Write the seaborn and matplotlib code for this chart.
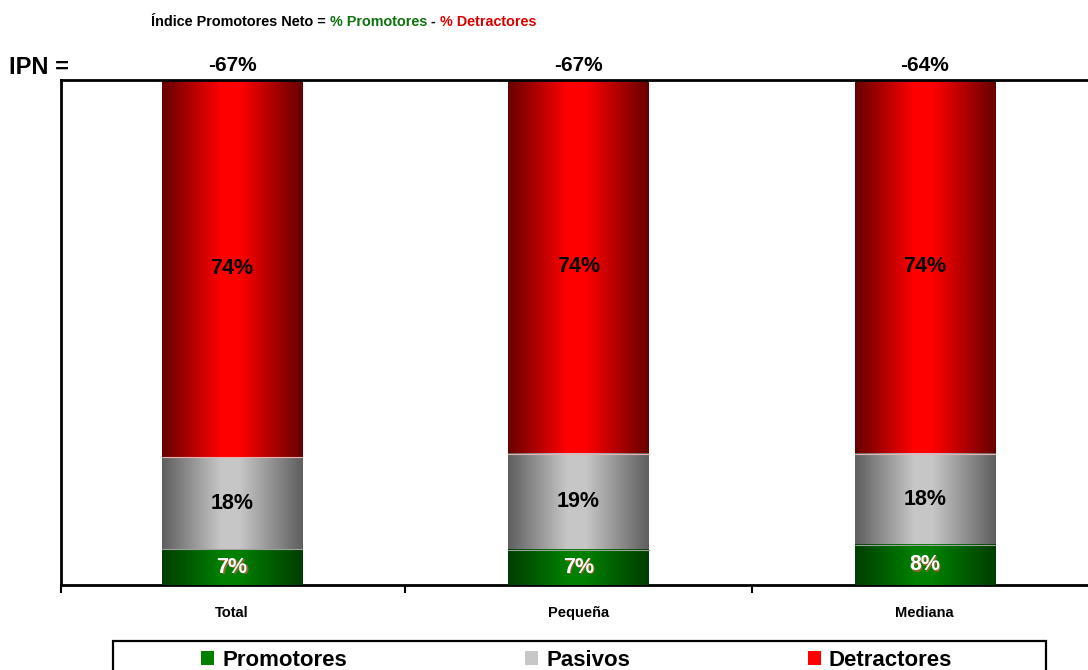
import numpy as np
import pandas as pd
import matplotlib
matplotlib.use("Agg")
import matplotlib.pyplot as plt
from matplotlib.patches import Rectangle
import seaborn as sns

# Net promoter breakdown by company size
categories = ["Total", "Pequeña", "Mediana"]
promotores = [7, 7, 8]
pasivos = [18, 19, 18]
detractores = [74, 74, 74]
ipn_labels = ["-67%", "-67%", "-64%"]
series_names = ["Promotores", "Pasivos", "Detractores"]

sns.set_theme(style="white")
plt.rcParams["font.family"] = ["Liberation Sans", "DejaVu Sans"]
plt.rcParams["text.color"] = "black"

df = pd.DataFrame({"cat": categories, "pro": promotores,
                   "pas": pasivos, "det": detractores})
tot = df[["pro", "pas", "det"]].sum(axis=1)
df["c1"] = df["pro"] / tot * 100
df["c2"] = df["c1"] + df["pas"] / tot * 100
df["c3"] = df["c2"] + df["det"] / tot * 100

W, H = 1088, 670
fig = plt.figure(figsize=(W / 100, H / 100), dpi=100)
ax = fig.add_axes([61 / W, 85 / H, 1039 / W, 505 / H])

# (dark edge, bright centre) for each series
shades = {
    "Detractores": ((0.40, 0.0, 0.0), (1.0, 0.0, 0.0)),
    "Pasivos": ((0.37, 0.37, 0.37), (0.78, 0.78, 0.78)),
    "Promotores": ((0.0, 0.24, 0.0), (0.0, 0.50, 0.0)),
}


def gradient(dark, light, n=256):
    t = np.linspace(0, 1, n)
    f = np.interp(t, [0, 0.42, 0.55, 1.0], [0, 1, 1, 0])
    dark = np.array(dark)
    light = np.array(light)
    rgb = dark[None, :] + (light - dark)[None, :] * f[:, None]
    return rgb[None, :, :]


# Stacked bars: draw cumulative totals back to front
layers = [("c3", "Detractores"), ("c2", "Pasivos"), ("c1", "Promotores")]
for col, name in layers:
    sns.barplot(data=df, x="cat", y=col, color=shades[name][1],
                width=0.405, ax=ax, saturation=1, edgecolor="none")

patches = list(ax.patches)
for i, p in enumerate(patches):
    name = layers[i // 3][1]
    x0, y0 = p.get_x(), p.get_y()
    w, h = p.get_width(), p.get_height()
    ax.imshow(gradient(*shades[name]), extent=(x0, x0 + w, y0, y0 + h),
              aspect="auto", interpolation="bilinear",
              zorder=2 + i // 3, origin="lower")
    p.set_visible(False)
    if name != "Detractores":
        # light seam on top of each lower segment
        ax.plot([x0, x0 + w], [y0 + h, y0 + h],
                color="#e8b0b0" if name == "Pasivos" else "#a0a0a0",
                lw=0.8, zorder=2 + i // 3 + 0.5)

ax.set_xlim(-0.494, 2.506)
ax.set_ylim(0, 100)
ax.set_xlabel("")
ax.set_ylabel("")
ax.set_yticks([])

# Segment labels
for i in range(3):
    ax.text(i, (df["c2"][i] + df["c3"][i]) / 2, f"{detractores[i]}%",
            ha="center", va="center", fontsize=15.5, fontweight="bold",
            color="black", zorder=10)
    ax.text(i, (df["c1"][i] + df["c2"][i]) / 2, f"{pasivos[i]}%",
            ha="center", va="center", fontsize=15.5, fontweight="bold",
            color="black", zorder=10)
    ax.text(i + 0.004, df["c1"][i] / 2 - 0.3, f"{promotores[i]}%",
            ha="center", va="center", fontsize=15.5, fontweight="bold",
            color="#8a6a2a", zorder=10)
    ax.text(i, df["c1"][i] / 2, f"{promotores[i]}%",
            ha="center", va="center", fontsize=15.5, fontweight="bold",
            color="white", zorder=11)
    ax.text(i, 101.0, ipn_labels[i], ha="center", va="bottom",
            fontsize=15, fontweight="bold", color="black")

# Axis frame and ticks
for s in ["left", "top", "bottom"]:
    ax.spines[s].set_visible(True)
    ax.spines[s].set_color("black")
    ax.spines[s].set_linewidth(2)
ax.spines["right"].set_visible(False)
ax.set_xticks([0, 1, 2])
ax.set_xticklabels(categories, fontsize=10.5, fontweight="bold", color="black")
ax.tick_params(axis="x", which="major", length=0, pad=15)
ax.set_xticks([-0.494, 0.5, 1.5, 2.5], minor=True)
ax.tick_params(axis="x", which="minor", length=6, width=1.5,
               direction="out", color="black", bottom=True)
ax.grid(False)

fig.text(9 / W, 1 - 68 / H, "IPN =", fontsize=17, fontweight="bold",
         va="center", ha="left", color="black")

# Formula header with coloured terms
fig.canvas.draw()
renderer = fig.canvas.get_renderer()
parts = [("Índice Promotores Neto = ", "black"),
         ("% Promotores", "#0e720e"),
         (" - ", "black"),
         ("% Detractores", "#d80000")]
x = 151
for txt, c in parts:
    t = fig.text(x / W, 1 - 22 / H, txt, fontsize=10.4, fontweight="bold",
                 color=c, va="center", ha="left")
    x += t.get_window_extent(renderer=renderer).width

# Legend box along the bottom edge
fig.patches.append(Rectangle((113 / W, -0.05), (1046 - 113) / W,
                             0.05 + (H - 641) / H, transform=fig.transFigure,
                             facecolor="white", edgecolor="black", lw=1.6))
marker_x = [201, 525, 808]
for name, mx in zip(series_names, marker_x):
    fig.patches.append(Rectangle((mx / W, 1 - 665 / H), 13 / W, 14 / H,
                                 transform=fig.transFigure,
                                 facecolor=shades[name][1], edgecolor="none"))
    fig.text((mx + 21) / W, 1 - 666 / H, name, fontsize=16, fontweight="bold",
             va="baseline", ha="left", color="black")

fig.savefig("out.png", dpi=100)
